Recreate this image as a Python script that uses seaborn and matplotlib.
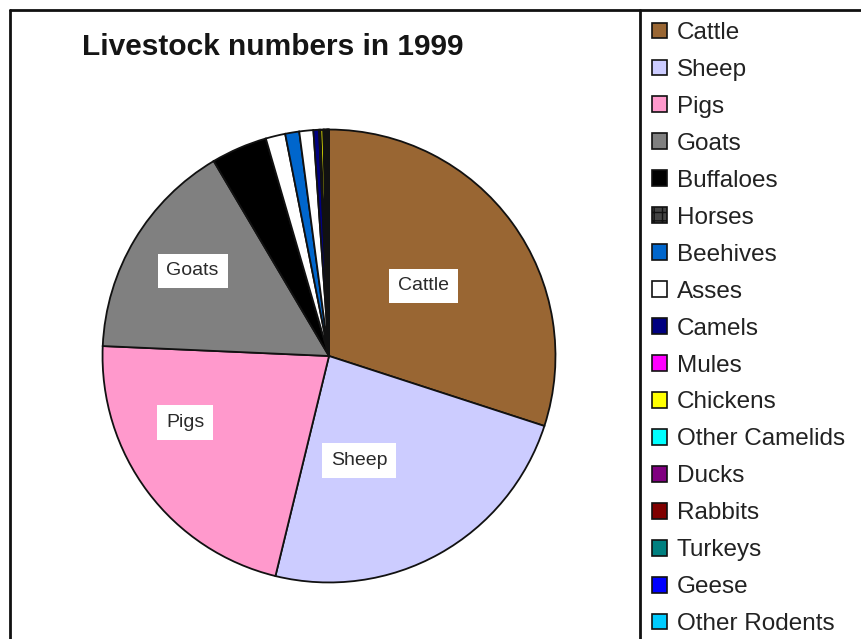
import numpy as np
import matplotlib
matplotlib.use('Agg')
import matplotlib.pyplot as plt
from matplotlib.lines import Line2D
import seaborn as sns

# data (share of total, %)
animals = ['Cattle', 'Sheep', 'Pigs', 'Goats', 'Buffaloes', 'Horses',
           'Beehives', 'Asses', 'Camels', 'Mules', 'Chickens',
           'Other Camelids', 'Ducks', 'Rabbits', 'Turkeys', 'Geese',
           'Other Rodents']
shares = [30.0, 23.8, 21.9, 15.8, 4.0, 1.4, 1.0, 1.0, 0.4, 0.1, 0.2,
          0.05, 0.1, 0.1, 0.05, 0.05, 0.05]
colours = ['#996633', '#CCCCFF', '#FF99CC', '#808080', '#000000', '#FFFFFF',
           '#0066CC', '#FFFFFF', '#000080', '#FF00FF', '#FFFF00',
           '#00FFFF', '#800080', '#800000', '#008080', '#0000FF',
           '#00CCFF']
labelled = ['Cattle', 'Sheep', 'Pigs', 'Goats']
# label places inside the pie as (radius, angle in degrees)
label_pos = {'Cattle': (0.52, 36.5), 'Sheep': (0.48, -73.8),
             'Pigs': (0.70, -155.2), 'Goats': (0.71, 148.0)}

sns.set_style('white')
plt.rcParams['font.family'] = ['Liberation Sans', 'DejaVu Sans']

W, H = 861, 639
fig = plt.figure(figsize=(W / 100, H / 100), dpi=100)

#
# pie
#
cx, cy, r = 329, 356, 231
ax = fig.add_axes([(cx - r) / W, (H - cy - r) / H, 2 * r / W, 2 * r / H])
wedges, _ = ax.pie(shares, colors=colours, startangle=90, counterclock=False,
                   radius=1, wedgeprops={'edgecolor': '#111111', 'linewidth': 1.3})
ax.set_xlim(-1.02, 1.02)
ax.set_ylim(-1.02, 1.02)
ax.set_aspect('equal')
ax.axis('off')

for name in labelled:
    rr, ang = label_pos[name]
    ax.text(rr * np.cos(np.radians(ang)), rr * np.sin(np.radians(ang)), name,
            ha='center', va='center', fontsize=14, color='#2a2a2a',
            bbox={'boxstyle': 'square,pad=0.45', 'facecolor': 'white',
                  'edgecolor': 'none'})

#
# title and frames
#
fig.text(82 / W, 1 - 47 / H, 'Livestock numbers in 1999', fontsize=21.5,
         fontweight='bold', va='center', ha='left', color='#151515')
for xs, ys in [([10, W], [10, 10]), ([10, 10], [10, H]), ([640, 640], [10, H])]:
    fig.add_artist(Line2D([x / W for x in xs], [1 - y / H for y in ys],
                          color='#111111', linewidth=2))

#
# legend
#
leg = fig.legend(wedges, animals, loc='upper left',
                 bbox_to_anchor=(652 / W, 1 - 22 / H), frameon=False,
                 fontsize=17.5, handlelength=0.62, handleheight=0.62,
                 handletextpad=0.4, labelspacing=0.615, borderaxespad=0,
                 borderpad=0, labelcolor='#222222')
for i, h in enumerate(leg.legend_handles):
    h.set_linewidth(1.2)
    h.set_edgecolor('#111111')
    if animals[i] == 'Horses':
        h.set_facecolor('#444444')
        h.set_hatch('++')

fig.savefig('out.png', dpi=100)
